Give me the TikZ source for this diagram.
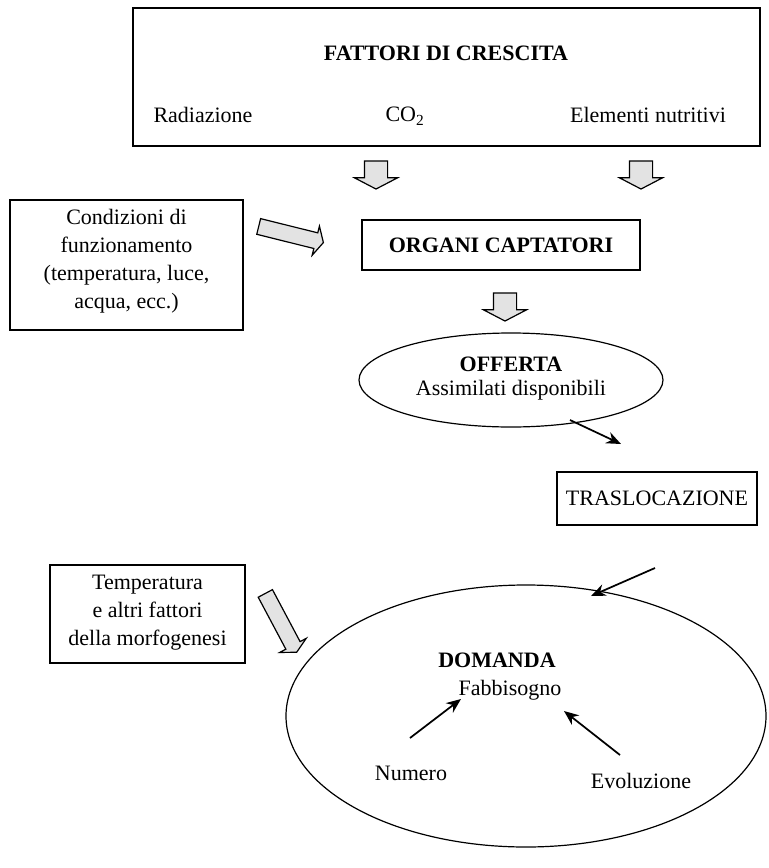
\documentclass[tikz,border=0pt]{standalone}
\usepackage{fontspec}
\setmainfont{Liberation Serif}
\usetikzlibrary{shapes.geometric,shapes.arrows,arrows.meta}
\begin{document}
\begin{tikzpicture}[x=0.75pt,y=-0.75pt,
  font=\fontsize{16.5}{21}\selectfont,
  box/.style={draw, line width=0.9pt, inner sep=0pt},
  oval/.style={draw, ellipse, line width=0.9pt, inner sep=0pt},
  txt/.style={inner sep=0pt, align=center},
  fatarrow/.style={single arrow, draw, line width=0.9pt, fill=gray!22,
    inner xsep=0pt, single arrow tip angle=125},
  bigdown/.style={fatarrow, rotate=-90, inner ysep=8.25pt,
    single arrow head extend=7.5pt, minimum height=21pt},
  slimarrow/.style={fatarrow, inner ysep=5.6pt,
    single arrow head extend=5.2pt, minimum height=50pt},
  link/.style={line width=1.3pt, -{Stealth[length=11pt,width=9pt]}}]
\useasboundingbox (0,0) rectangle (768,868);

% top box
\node[box, minimum width=627*0.75pt, minimum height=138*0.75pt] (fattori) at (446.5,77) {};
\node[txt, font=\fontsize{16.5}{21}\selectfont\bfseries] (titolo) at (446,53) {FATTORI DI CRESCITA};
\node[txt] (rad) at (203,115) {Radiazione};
\node[txt] (co2) at (405,116) {CO\textsubscript{2}};
\node[txt] (elem) at (648,115) {Elementi nutritivi};

% down arrows
\node[bigdown] (fa1) at (376,172) {};
\node[bigdown] (fa2) at (641,172) {};

% left box 1
\node[box, minimum width=233*0.75pt, minimum height=130*0.75pt] (cond) at (126.5,265) {};
\node[txt] (condt) at (126.5,261) {Condizioni di\\funzionamento\\(temperatura, luce,\\acqua, ecc.)};

% slanted arrow 1
\node[slimarrow, rotate=-14] (fa3) at (289,234) {};

% organi captatori
\node[box, minimum width=278*0.75pt, minimum height=50*0.75pt, font=\fontsize{16.5}{21}\selectfont\bfseries] (organi) at (501,245) {ORGANI CAPTATORI};

\node[bigdown] (fa4) at (505,304) {};

% offerta
\node[oval, minimum width=304*0.75pt, minimum height=94*0.75pt] (offerta) at (511,380) {};
\node[txt, font=\fontsize{16.5}{21}\selectfont\bfseries] (offt) at (511,364) {OFFERTA};
\node[txt] (assim) at (511,390) {Assimilati disponibili};

\coordinate (a1s) at (570,420);
\coordinate (a1e) at (621,444);
\draw[link] (a1s) -- (a1e);

% traslocazione
\node[box, minimum width=200*0.75pt, minimum height=53*0.75pt] (trasl) at (657,498.5) {TRASLOCAZIONE};

\coordinate (a2s) at (655,568);
\coordinate (a2e) at (591,596);
\draw[link] (a2s) -- (a2e);

% left box 2
\node[box, minimum width=195*0.75pt, minimum height=98*0.75pt] (morfo) at (147.5,614) {};
\node[txt] (morfot) at (147.5,613) {Temperatura\\e altri fattori\\della morfogenesi};

\node[slimarrow, rotate=-62] (fa5) at (280,621) {};

% domanda
\node[oval, minimum width=480*0.75pt, minimum height=262*0.75pt] (domanda) at (526,716) {};
\node[txt, font=\fontsize{16.5}{21}\selectfont\bfseries] (domt) at (497,660) {DOMANDA};
\node[txt] (fabb) at (510,690) {Fabbisogno};
\node[txt] (num) at (411,773) {Numero};
\node[txt] (evo) at (641,781) {Evoluzione};

\coordinate (b1s) at (410,738);
\coordinate (b1e) at (461,699);
\coordinate (b2s) at (620,755);
\coordinate (b2e) at (564,711);
\draw[link] (b1s) -- (b1e);
\draw[link] (b2s) -- (b2e);
\end{tikzpicture}
\end{document}
